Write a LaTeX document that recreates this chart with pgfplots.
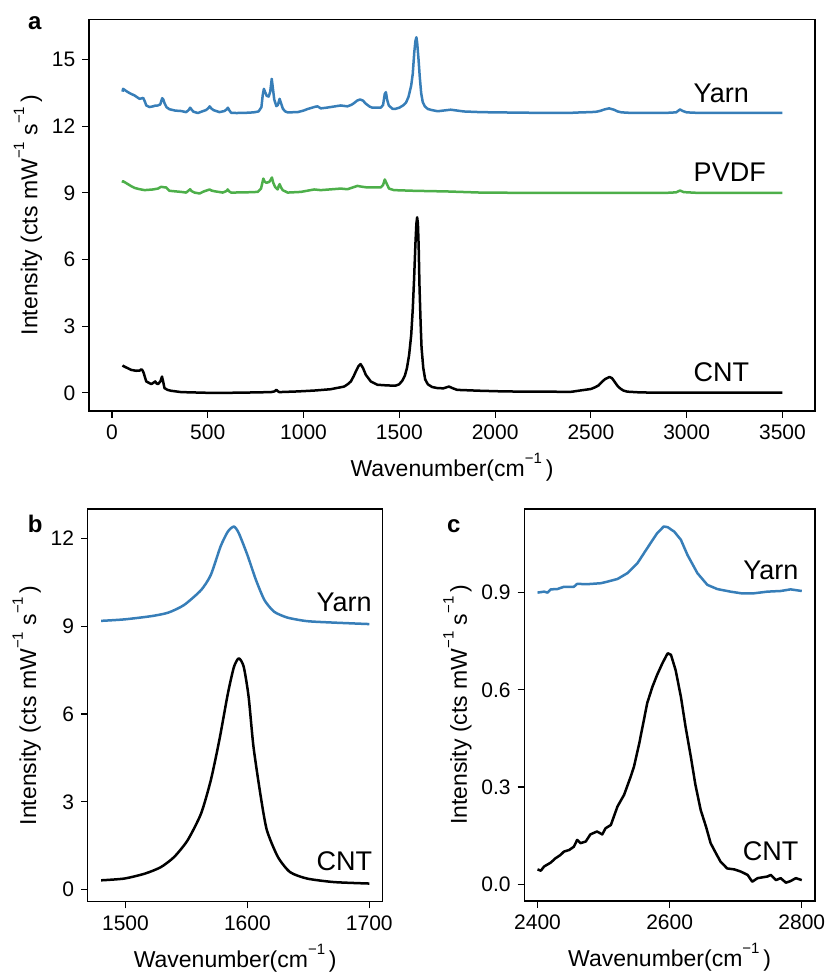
\documentclass[border=0pt]{standalone}
\usepackage{fontspec}
\setmainfont{Liberation Sans}
\usepackage{pgfplots}
\pgfplotsset{compat=1.18}
\definecolor{yarnblue}{RGB}{55,126,184}
\definecolor{pvdfgreen}{RGB}{77,175,74}

% superscript "-1" set high, as in the original figure
\newcommand{\inv}{\raisebox{0.58em}{\fontsize{7.5}{8}\selectfont −1}}
\newcommand{\ylab}{Intensity (cts mW\inv\ s\inv\,)}
\newcommand{\xlab}{Wavenumber(cm\inv\,)}

\pgfplotsset{
  panel/.style={
    scale only axis,
    axis line style={line width=0.6pt},
    tick align=outside, xtick pos=bottom, ytick pos=left,
    major tick length=3.3pt,
    every tick/.style={line width=0.6pt, black},
    tick label style={font=\fontsize{10.5}{12}\selectfont},
    label style={font=\fontsize{11.5}{13}\selectfont},
    /pgf/number format/assume math mode=true,
    /pgf/number format/1000 sep={},
    every axis plot/.append style={line width=1.25pt, no marks, line join=round},
    ylabel style={yshift=-2pt},
  },
}
\tikzset{tag/.style={anchor=base west, font=\fontsize{13.5}{15}\selectfont}}

\begin{document}
\begin{tikzpicture}
\path[use as bounding box] (0,0) rectangle (414pt,486.5pt);

% ---------------- panel a ----------------
\begin{axis}[panel,
  at={(44.5pt,281pt)}, anchor=south west,
  width=363pt, height=195.75pt,
  xmin=-120, xmax=3670, ymin=-0.82, ymax=16.8,
  xtick={0,500,...,3500}, ytick={0,3,...,15},
  xlabel={\xlab}, ylabel={\ylab},
]
\addplot[yarnblue] coordinates {
(55,13.55)(58,13.68)(66,13.63)(83,13.53)(100,13.45)(118,13.38)(135,13.28)(144,13.23)
(155,13.25)(163,13.27)(172,13.1)(179,12.93)(196,12.86)(214,12.89)(225,12.92)(240,12.93)
(252,12.98)(262,13.26)(268,13.2)(274,13.04)(285,12.85)(300,12.76)(330,12.7)(361,12.68)
(387,12.63)(400,12.72)(408,12.83)(415,12.75)(425,12.65)(448,12.59)(470,12.66)(490,12.72)
(502,12.8)(510,12.89)(518,12.8)(530,12.72)(561,12.63)(587,12.68)(598,12.75)(605,12.83)
(612,12.72)(622,12.6)(650,12.59)(700,12.6)(740,12.62)(765,12.66)(780,12.85)(787,13.4)
(793,13.68)(800,13.52)(808,13.36)(818,13.33)(826,13.55)(834,14.13)(840,13.7)(847,13.2)
(858,12.9)(866,12.95)(875,13.23)(882,13.05)(892,12.78)(905,12.66)(917,12.62)(969,12.63)
(1000,12.7)(1021,12.77)(1060,12.87)(1073,12.89)(1090,12.8)(1120,12.83)(1142,12.86)
(1194,12.93)(1229,12.89)(1250,12.96)(1264,13.04)(1280,13.15)(1295,13.2)(1310,13.15)
(1325,13.01)(1345,12.88)(1359,12.83)(1403,12.83)(1415,12.95)(1424,13.45)(1430,13.53)
(1436,13.2)(1445,12.93)(1464,12.78)(1480,12.78)(1500,12.83)(1521,12.94)(1535,13.06)
(1548,13.32)(1562,13.83)(1570,14.35)(1578,15.32)(1584,15.83)(1589,16.0)(1593,15.77)
(1600,15.03)(1607,14.18)(1614,13.49)(1622,13.09)(1633,12.89)(1649,12.77)(1671,12.72)
(1700,12.67)(1768,12.74)(1837,12.66)(1924,12.63)(2000,12.62)(2100,12.61)(2200,12.6)
(2300,12.6)(2400,12.6)(2450,12.62)(2500,12.63)(2530,12.65)(2550,12.69)(2570,12.75)
(2595,12.8)(2620,12.74)(2640,12.66)(2660,12.62)(2700,12.6)(2800,12.6)(2900,12.6)
(2945,12.62)(2965,12.75)(2980,12.68)(3000,12.62)(3050,12.6)(3200,12.6)(3500,12.6)
};
\addplot[pvdfgreen] coordinates {
(55,9.45)(58,9.52)(83,9.39)(100,9.3)(118,9.22)(140,9.17)(170,9.12)(214,9.15)(240,9.19)
(257,9.27)(270,9.25)(283,9.24)(300,9.09)(361,9.04)(387,9.01)(400,9.1)(408,9.16)(415,9.08)
(431,9.01)(457,8.97)(482,9.07)(500,9.12)(509,9.15)(520,9.1)(535,9.07)(578,9.01)(598,9.08)
(604,9.15)(612,9.06)(622,9.01)(700,9.02)(761,9.04)(778,9.19)(785,9.45)(790,9.64)(797,9.5)
(806,9.45)(821,9.49)(828,9.58)(835,9.69)(842,9.45)(851,9.27)(865,9.15)(870,9.3)(875,9.39)
(882,9.25)(891,9.12)(917,9.01)(986,9.04)(1056,9.15)(1090,9.12)(1150,9.16)(1194,9.19)
(1229,9.16)(1260,9.25)(1281,9.31)(1300,9.28)(1333,9.24)(1403,9.24)(1415,9.35)(1424,9.6)
(1432,9.45)(1446,9.19)(1472,9.12)(1576,9.09)(1750,9.06)(1924,9.01)(2100,9.0)(2500,9.0)
(2900,9.0)(2945,9.02)(2965,9.1)(2985,9.03)(3050,9.0)(3500,9.0)
};
\addplot[black] coordinates {
(55,1.23)(60,1.2)(74,1.14)(100,1.03)(126,0.99)(145,1.0)(153,1.06)(160,1.0)(166,0.88)
(172,0.7)(179,0.51)(192,0.45)(205,0.39)(216,0.45)(226,0.51)(233,0.42)(240,0.39)(252,0.5)
(261,0.73)(266,0.55)(274,0.21)(290,0.13)(309,0.09)(361,0.03)(448,0.01)(535,-0.01)
(708,0.01)(830,0.03)(848,0.06)(858,0.13)(866,0.07)(873,0.03)(969,0.06)(1056,0.1)
(1142,0.16)(1212,0.28)(1230,0.38)(1247,0.51)(1262,0.75)(1273,0.96)(1287,1.2)(1298,1.29)
(1310,1.12)(1325,0.81)(1351,0.51)(1386,0.36)(1438,0.33)(1480,0.32)(1499,0.38)(1516,0.55)
(1529,0.77)(1540,1.12)(1551,1.69)(1562,2.6)(1570,3.74)(1577,5.11)(1584,6.7)(1589,7.61)
(1593,7.9)(1597,7.61)(1601,6.59)(1605,4.88)(1611,3.17)(1616,2.03)(1625,1.12)(1635,0.6)
(1649,0.38)(1671,0.26)(1700,0.21)(1730,0.2)(1759,0.28)(1780,0.2)(1802,0.13)(1924,0.09)
(2050,0.06)(2200,0.05)(2350,0.045)(2400,0.046)(2450,0.11)(2500,0.17)(2520,0.24)
(2540,0.33)(2560,0.51)(2575,0.62)(2597,0.71)(2610,0.66)(2625,0.48)(2640,0.3)(2655,0.18)
(2670,0.1)(2690,0.05)(2750,0.02)(2800,0.01)(3000,0.01)(3200,0.01)(3500,0.01)
};
\node[tag] at (axis cs:3000,13.08) {Yarn};
\node[tag] at (axis cs:3000,9.49) {PVDF};
\node[tag] at (axis cs:3000,0.51) {CNT};
\end{axis}

% ---------------- panel b ----------------
\begin{axis}[panel,
  at={(43.85pt,35.65pt)}, anchor=south west,
  width=147.5pt, height=196.35pt,
  xmin=1469, xmax=1711, ymin=-0.41, ymax=13.0,
  xtick={1500,1600,1700}, ytick={0,3,...,12},
  xlabel={\xlab}, ylabel={\ylab},
]
\addplot[yarnblue, smooth, tension=0.4] coordinates {
(1480,9.18)(1499,9.23)(1521,9.34)(1535,9.46)(1548,9.72)(1562,10.23)(1570,10.75)
(1578,11.72)(1584,12.23)(1589,12.4)(1593,12.17)(1600,11.43)(1607,10.58)(1614,9.89)
(1622,9.49)(1633,9.29)(1649,9.17)(1671,9.12)(1700,9.07)
};
\addplot[black, smooth, tension=0.4] coordinates {
(1480,0.32)(1499,0.38)(1516,0.55)(1529,0.77)(1540,1.12)(1551,1.69)(1562,2.6)(1570,3.74)
(1577,5.11)(1584,6.7)(1589,7.61)(1593,7.9)(1597,7.61)(1601,6.59)(1605,4.88)(1611,3.17)
(1616,2.03)(1625,1.12)(1635,0.6)(1649,0.38)(1671,0.26)(1700,0.21)
};
\node[tag] at (axis cs:1651,9.49) {Yarn};
\node[tag] at (axis cs:1651,0.64) {CNT};
\end{axis}

% ---------------- panel c ----------------
\begin{axis}[panel,
  at={(262.15pt,36pt)}, anchor=south west,
  width=145.35pt, height=196pt,
  xmin=2380, xmax=2820, ymin=-0.0515, ymax=1.158,
  xtick={2400,2600,2800}, ytick={0,0.3,0.6,0.9},
  yticklabel style={/pgf/number format/.cd, fixed, fixed zerofill, precision=1},
  xlabel={\xlab}, ylabel={\ylab},
]
\addplot[yarnblue] coordinates {
(2400,0.9)(2410,0.903)(2415,0.9)(2420,0.91)(2430,0.911)(2440,0.918)(2455,0.918)
(2460,0.927)(2475,0.926)(2496,0.929)(2506,0.934)(2521,0.942)(2536,0.96)(2551,0.99)
(2566,1.037)(2581,1.083)(2591,1.104)(2597,1.102)(2607,1.088)(2617,1.063)(2627,1.016)
(2642,0.96)(2657,0.924)(2672,0.911)(2692,0.903)(2708,0.898)(2728,0.898)(2748,0.903)
(2768,0.905)(2783,0.91)(2800,0.905)
};
\addplot[black] coordinates {
(2400,0.046)(2405,0.042)(2410,0.055)(2420,0.067)(2427,0.08)(2435,0.091)(2440,0.101)
(2448,0.106)(2455,0.116)(2460,0.137)(2465,0.127)(2473,0.132)(2480,0.154)(2490,0.163)
(2498,0.154)(2503,0.173)(2511,0.183)(2521,0.24)(2531,0.276)(2541,0.332)(2546,0.363)
(2554,0.435)(2561,0.507)(2566,0.559)(2574,0.61)(2581,0.646)(2589,0.682)(2597,0.713)
(2602,0.708)(2609,0.661)(2617,0.579)(2624,0.487)(2632,0.394)(2639,0.307)(2647,0.229)
(2655,0.178)(2662,0.127)(2670,0.096)(2677,0.07)(2687,0.049)(2698,0.046)(2708,0.039)
(2718,0.029)(2725,0.008)(2733,0.019)(2748,0.024)(2753,0.029)(2761,0.013)(2768,0.019)
(2776,0.005)(2783,0.01)(2791,0.019)(2800,0.013)
};
\node[tag] at (axis cs:2701,0.941) {Yarn};
\node[tag] at (axis cs:2700,0.072) {CNT};
\end{axis}

% panel letters
\node[anchor=base west, font=\fontsize{12}{14}\selectfont\bfseries] at (10.5pt,471.5pt) {a};
\node[anchor=base west, font=\fontsize{12}{14}\selectfont\bfseries] at (10.35pt,220.15pt) {b};
\node[anchor=base west, font=\fontsize{12}{14}\selectfont\bfseries] at (220pt,220.35pt) {c};
\end{tikzpicture}
\end{document}
